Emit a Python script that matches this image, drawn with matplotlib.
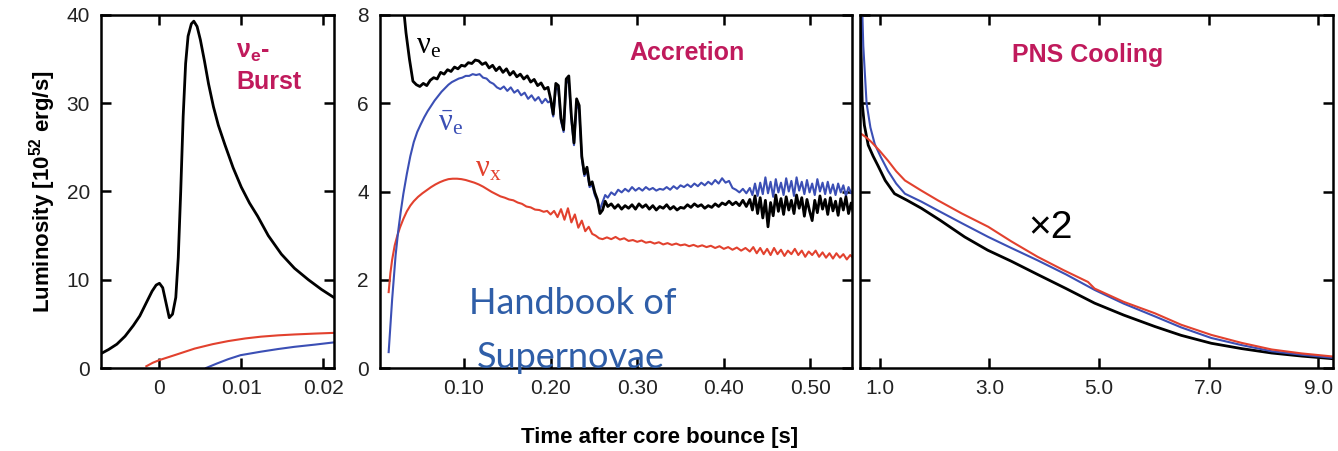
import matplotlib.pyplot as plt

plt.rcParams['font.family'] = ['Liberation Sans Narrow', 'Liberation Sans', 'DejaVu Sans']

# neutrino species colours
C_E = 'black'
C_EBAR = '#3b4fb5'
C_X = '#e2412e'
C_PHASE = '#c01a5c'

# --- nu_e burst phase (time in s) ---
burst_t_e = [-0.0072, -0.0062, -0.0052, -0.0042, -0.0032, -0.0024, -0.0016, -0.0009, -0.0004, 0.0,
             0.0004, 0.0008, 0.0012, 0.0016, 0.0020, 0.0023, 0.0026, 0.0029, 0.0032, 0.0035,
             0.0039, 0.0042, 0.0046, 0.0050, 0.0055, 0.0060, 0.0066, 0.0072, 0.0080, 0.0090,
             0.0100, 0.0110, 0.0120, 0.0133, 0.0149, 0.0165, 0.0182, 0.0198, 0.0213]
burst_L_e = [1.6, 2.1, 2.7, 3.6, 4.8, 5.9, 7.4, 8.7, 9.4, 9.6,
             9.1, 7.4, 5.7, 6.1, 8.0, 12.5, 20.0, 28.5, 34.5, 37.6,
             39.0, 39.3, 38.7, 37.2, 34.8, 32.2, 29.6, 27.5, 25.3, 22.7,
             20.5, 18.7, 17.2, 15.0, 12.9, 11.3, 10.0, 8.9, 8.0]
burst_t_x = [-0.0016, -0.0008, 0.0, 0.002, 0.0043, 0.0065, 0.0084, 0.0105, 0.0124, 0.0145, 0.0165, 0.019, 0.0213]
burst_L_x = [0.2, 0.6, 0.9, 1.5, 2.2, 2.7, 3.05, 3.35, 3.55, 3.7, 3.8, 3.9, 3.98]
burst_t_ebar = [0.0057, 0.0070, 0.0084, 0.0099, 0.0124, 0.0145, 0.0165, 0.019, 0.0213]
burst_L_ebar = [0.0, 0.5, 1.0, 1.45, 1.85, 2.15, 2.4, 2.65, 2.9]

# --- accretion phase ---
acc_t_e = [0.029, 0.033, 0.037, 0.041, 0.045, 0.049, 0.053, 0.057, 0.061, 0.065, 0.069, 0.073, 0.077,
           0.081, 0.085, 0.089, 0.093, 0.097, 0.101, 0.105, 0.109, 0.113, 0.117, 0.121, 0.125, 0.129,
           0.133, 0.137, 0.141, 0.145, 0.149, 0.153, 0.157, 0.161, 0.165, 0.169, 0.173, 0.177, 0.181,
           0.185, 0.189, 0.193, 0.197, 0.200, 0.203, 0.206, 0.209, 0.212, 0.215, 0.218, 0.221, 0.224,
           0.227, 0.230, 0.233, 0.236, 0.239, 0.242, 0.245, 0.248, 0.251, 0.254, 0.257, 0.260, 0.263,
           0.266, 0.270, 0.274, 0.278, 0.282, 0.286, 0.290, 0.294, 0.298, 0.302, 0.306, 0.310, 0.314,
           0.318, 0.322, 0.326, 0.330, 0.334, 0.338, 0.342, 0.346, 0.350, 0.354, 0.358, 0.362, 0.366,
           0.370, 0.374, 0.378, 0.382, 0.386, 0.390, 0.394, 0.398, 0.402, 0.406, 0.410, 0.414, 0.418,
           0.422, 0.426, 0.430, 0.433, 0.436, 0.439, 0.442, 0.445, 0.448, 0.451, 0.454, 0.457, 0.460,
           0.463, 0.466, 0.469, 0.472, 0.475, 0.478, 0.481, 0.484, 0.487, 0.490, 0.493, 0.496, 0.499,
           0.502, 0.505, 0.508, 0.511, 0.514, 0.517, 0.520, 0.523, 0.526, 0.529, 0.532, 0.535, 0.538,
           0.541, 0.544, 0.547, 0.549]
acc_L_e = [8.4, 7.6, 7.0, 6.5, 6.42, 6.38, 6.45, 6.40, 6.52, 6.58, 6.55, 6.70, 6.66,
           6.76, 6.72, 6.82, 6.78, 6.86, 6.84, 6.92, 6.90, 6.98, 6.96, 6.88, 6.92, 6.80,
           6.86, 6.74, 6.82, 6.70, 6.78, 6.64, 6.72, 6.60, 6.66, 6.55, 6.62, 6.48, 6.54,
           6.40, 6.46, 6.32, 6.36, 6.10, 5.75, 6.45, 6.40, 5.65, 5.40, 6.55, 6.62, 5.70,
           5.10, 6.10, 5.95, 4.80, 4.40, 4.55, 4.15, 4.22, 3.98, 3.82, 3.50, 3.58, 3.78,
           3.66, 3.72, 3.62, 3.70, 3.60, 3.68, 3.62, 3.70, 3.60, 3.72, 3.64, 3.70, 3.60,
           3.68, 3.58, 3.66, 3.62, 3.70, 3.60, 3.66, 3.58, 3.64, 3.62, 3.70, 3.64, 3.72,
           3.66, 3.70, 3.62, 3.68, 3.64, 3.72, 3.66, 3.74, 3.70, 3.78, 3.70, 3.76, 3.68,
           3.80, 3.66, 3.82, 3.58, 3.90, 3.50, 3.86, 3.40, 3.80, 3.20, 3.75, 3.45, 3.92,
           3.55, 3.84, 3.48, 3.88, 3.58, 3.80, 3.50, 3.92, 3.62, 3.86, 3.44, 3.82, 3.56,
           3.34, 3.80, 3.52, 3.90, 3.60, 3.82, 3.48, 3.86, 3.56, 3.78, 3.46, 3.84, 3.58,
           3.88, 3.50, 3.74, 3.56]

acc_t_ebar = [0.013, 0.015, 0.017, 0.019, 0.021, 0.024, 0.027, 0.030, 0.034, 0.038, 0.042, 0.046, 0.050,
              0.054, 0.058, 0.062, 0.066, 0.070, 0.074, 0.078, 0.082, 0.086, 0.090, 0.094, 0.098, 0.102,
              0.106, 0.110, 0.114, 0.118, 0.122, 0.126, 0.130, 0.134, 0.138, 0.142, 0.146, 0.150, 0.154,
              0.158, 0.162, 0.166, 0.170, 0.174, 0.178, 0.182, 0.186, 0.190, 0.194, 0.197, 0.200, 0.203,
              0.206, 0.209, 0.212, 0.215, 0.218, 0.221, 0.224, 0.227, 0.230, 0.233, 0.236, 0.239, 0.242,
              0.245, 0.248, 0.251, 0.254, 0.257, 0.260, 0.263, 0.266, 0.270, 0.274, 0.278, 0.282, 0.286,
              0.290, 0.294, 0.298, 0.302, 0.306, 0.310, 0.314, 0.318, 0.322, 0.326, 0.330, 0.334, 0.338,
              0.342, 0.346, 0.350, 0.354, 0.358, 0.362, 0.366, 0.370, 0.374, 0.378, 0.382, 0.386, 0.390,
              0.394, 0.398, 0.402, 0.406, 0.410, 0.414, 0.418, 0.422, 0.426, 0.430, 0.433, 0.436, 0.439,
              0.442, 0.445, 0.448, 0.451, 0.454, 0.457, 0.460, 0.463, 0.466, 0.469, 0.472, 0.475, 0.478,
              0.481, 0.484, 0.487, 0.490, 0.493, 0.496, 0.499, 0.502, 0.505, 0.508, 0.511, 0.514, 0.517,
              0.520, 0.523, 0.526, 0.529, 0.532, 0.535, 0.538, 0.541, 0.544, 0.547, 0.549]
acc_L_ebar = [0.36, 0.95, 1.55, 2.05, 2.55, 3.10, 3.55, 3.95, 4.40, 4.80, 5.12, 5.35, 5.52,
              5.68, 5.82, 5.94, 6.06, 6.16, 6.26, 6.34, 6.42, 6.48, 6.52, 6.56, 6.58, 6.62,
              6.62, 6.66, 6.64, 6.66, 6.58, 6.56, 6.48, 6.44, 6.36, 6.32, 6.38, 6.28, 6.36,
              6.24, 6.30, 6.18, 6.24, 6.10, 6.18, 6.06, 6.14, 6.00, 6.10, 6.02, 6.05, 5.70,
              6.35, 6.30, 5.60, 5.35, 6.45, 6.52, 5.62, 5.05, 6.00, 5.85, 4.75, 4.35, 4.48,
              4.10, 4.15, 3.92, 3.78, 3.60, 3.76, 3.92, 3.86, 3.98, 3.92, 4.04, 3.98, 4.06,
              4.00, 4.10, 4.02, 4.08, 4.02, 4.10, 4.04, 4.08, 4.02, 4.06, 4.04, 4.10, 4.04,
              4.12, 4.06, 4.14, 4.10, 4.16, 4.10, 4.18, 4.12, 4.20, 4.14, 4.22, 4.16, 4.26,
              4.18, 4.30, 4.20, 4.24, 4.08, 4.04, 3.98, 4.06, 3.96, 4.08, 3.92, 4.18, 3.90,
              4.20, 3.94, 4.32, 3.96, 4.22, 3.88, 4.28, 3.98, 4.20, 3.92, 4.30, 4.00, 4.24,
              3.90, 4.32, 4.02, 4.22, 3.94, 4.26, 3.98, 4.18, 3.92, 4.28, 4.00, 4.20, 3.94,
              4.22, 3.96, 4.16, 3.92, 4.18, 3.98, 4.14, 3.90, 4.10, 3.96, 4.02]

acc_t_x = [0.013, 0.015, 0.017, 0.020, 0.023, 0.026, 0.030, 0.034, 0.038, 0.042, 0.047, 0.052, 0.057,
           0.062, 0.067, 0.072, 0.077, 0.082, 0.087, 0.092, 0.097, 0.102, 0.107, 0.112, 0.117, 0.122,
           0.127, 0.132, 0.137, 0.142, 0.147, 0.152, 0.157, 0.162, 0.167, 0.172, 0.177, 0.182, 0.187,
           0.192, 0.196, 0.200, 0.204, 0.208, 0.212, 0.216, 0.220, 0.224, 0.228, 0.232, 0.236, 0.240,
           0.244, 0.248, 0.252, 0.256, 0.260, 0.265, 0.270, 0.275, 0.280, 0.285, 0.290, 0.295, 0.300,
           0.305, 0.310, 0.315, 0.320, 0.325, 0.330, 0.335, 0.340, 0.345, 0.350, 0.355, 0.360, 0.365,
           0.370, 0.375, 0.380, 0.385, 0.390, 0.395, 0.400, 0.405, 0.410, 0.415, 0.420, 0.425, 0.430,
           0.434, 0.438, 0.442, 0.446, 0.450, 0.454, 0.458, 0.462, 0.466, 0.470, 0.474, 0.478, 0.482,
           0.486, 0.490, 0.494, 0.498, 0.502, 0.506, 0.510, 0.514, 0.518, 0.522, 0.526, 0.530, 0.534,
           0.538, 0.542, 0.546, 0.549]
acc_L_x = [1.72, 2.15, 2.45, 2.78, 3.00, 3.18, 3.38, 3.55, 3.68, 3.78, 3.88, 3.96, 4.03,
           4.10, 4.16, 4.21, 4.25, 4.28, 4.29, 4.29, 4.28, 4.26, 4.23, 4.20, 4.16, 4.11,
           4.05, 3.99, 3.94, 3.89, 3.86, 3.82, 3.80, 3.75, 3.72, 3.66, 3.64, 3.59, 3.58,
           3.54, 3.56, 3.48, 3.56, 3.42, 3.60, 3.36, 3.62, 3.30, 3.48, 3.18, 3.34, 3.10,
           3.20, 3.04, 3.00, 2.94, 2.92, 2.96, 2.92, 2.97, 2.91, 2.94, 2.88, 2.90, 2.86,
           2.89, 2.84, 2.86, 2.82, 2.85, 2.80, 2.83, 2.79, 2.82, 2.78, 2.80, 2.76, 2.79,
           2.75, 2.78, 2.74, 2.77, 2.72, 2.76, 2.70, 2.74, 2.68, 2.73, 2.66, 2.72, 2.64,
           2.74, 2.60, 2.72, 2.58, 2.70, 2.56, 2.72, 2.58, 2.68, 2.54, 2.66, 2.58, 2.70,
           2.56, 2.66, 2.52, 2.64, 2.56, 2.66, 2.52, 2.62, 2.50, 2.60, 2.48, 2.60, 2.50,
           2.58, 2.46, 2.56, 2.50]

# --- PNS cooling phase (luminosities scaled x2) ---
cool_t_e = [0.64, 0.66, 0.68, 0.72, 0.79, 0.88, 0.97, 1.10, 1.27, 1.50, 1.76, 2.10, 2.55,
            2.97, 3.40, 3.88, 4.40, 4.92, 5.45, 6.02, 6.50, 7.05, 7.60, 8.15, 8.70, 9.27]
cool_L_e = [9.0, 7.2, 6.0, 5.5, 5.05, 4.8, 4.58, 4.25, 3.95, 3.80, 3.62, 3.35, 2.97,
            2.67, 2.42, 2.12, 1.80, 1.47, 1.20, 0.94, 0.74, 0.56, 0.44, 0.34, 0.27, 0.21]
cool_t_ebar = [0.66, 0.70, 0.76, 0.83, 0.91, 1.02, 1.15, 1.30, 1.46, 1.76, 2.06, 2.50, 2.98,
               3.40, 3.88, 4.40, 4.92, 5.45, 6.02, 6.50, 7.05, 7.60, 8.15, 8.70, 9.27]
cool_L_ebar = [9.0, 7.3, 6.0, 5.45, 5.07, 4.78, 4.47, 4.18, 3.95, 3.77, 3.57, 3.28, 2.97,
               2.72, 2.44, 2.12, 1.77, 1.46, 1.17, 0.92, 0.68, 0.52, 0.38, 0.30, 0.23]
cool_t_x = [0.67, 0.76, 0.85, 1.00, 1.15, 1.30, 1.46, 1.76, 2.06, 2.50, 2.98, 3.40, 3.88,
            4.35, 4.80, 4.92, 5.45, 6.02, 6.50, 7.05, 7.60, 8.15, 8.70, 9.27]
cool_L_x = [5.30, 5.22, 5.12, 4.92, 4.70, 4.46, 4.25, 4.02, 3.80, 3.50, 3.20, 2.87, 2.52,
            2.22, 1.95, 1.80, 1.50, 1.24, 0.98, 0.75, 0.57, 0.42, 0.33, 0.26]

W, H = 1338, 451
fig = plt.figure(figsize=(W / 100, H / 100), dpi=100)
bot, hgt = 83 / H, 353 / H
ax1 = fig.add_axes([101 / W, bot, 233 / W, hgt])
ax2 = fig.add_axes([380 / W, bot, 472 / W, hgt])
ax3 = fig.add_axes([860 / W, bot, 473 / W, hgt])


def style(ax):
    for s in ax.spines.values():
        s.set_linewidth(1.8)
    ax.tick_params(direction='in', top=True, right=True, length=7, width=1.8,
                   labelsize=15, pad=8, colors='black', labelcolor='#222222')


# burst
ax1.plot(burst_t_e, burst_L_e, color=C_E, lw=2.0)
ax1.plot(burst_t_x, burst_L_x, color=C_X, lw=1.5)
ax1.plot(burst_t_ebar, burst_L_ebar, color=C_EBAR, lw=1.5)
ax1.set_xlim(-0.00714, 0.02133)
ax1.set_ylim(0, 40)
ax1.set_xticks([0, 0.01, 0.02], ['0', '0.01', '0.02'])
ax1.set_yticks([0, 10, 20, 30, 40])
style(ax1)
ax1.text(0.58, 0.896, r'$\mathregular{ν_e}$-', transform=ax1.transAxes, color=C_PHASE,
         fontsize=18, fontweight='bold', family='Liberation Sans', va='center', ha='left')
ax1.text(0.58, 0.811, 'Burst', transform=ax1.transAxes, color=C_PHASE,
         fontsize=18, fontweight='bold', family='Liberation Sans', va='center', ha='left')
ax1.set_ylabel(r'Luminosity [10$^{\mathregular{52}}$ erg/s]', fontsize=16,
               fontweight='bold', labelpad=6)

# accretion
ax2.plot(acc_t_x, acc_L_x, color=C_X, lw=1.5)
ax2.plot(acc_t_ebar, acc_L_ebar, color=C_EBAR, lw=1.5)
ax2.plot(acc_t_e, acc_L_e, color=C_E, lw=2.0)
ax2.set_xlim(0.003, 0.548)
ax2.set_ylim(0, 8)
ax2.set_xticks([0.1, 0.2, 0.3, 0.4, 0.5], ['0.10', '0.20', '0.30', '0.40', '0.50'])
ax2.set_yticks([0, 2, 4, 6, 8])
style(ax2)
ax2.text(0.65, 0.892, 'Accretion', transform=ax2.transAxes, color=C_PHASE,
         fontsize=18, fontweight='bold', family='Liberation Sans', va='center', ha='center')
ax2.text(0.045, 7.3, r'$\mathregular{ν_e}$', color=C_E, fontsize=22,
         family='Liberation Serif', va='center')
ax2.text(0.070, 5.55, r'$\mathregular{\bar{ν}_e}$', color=C_EBAR, fontsize=22,
         family='Liberation Serif', va='center')
ax2.text(0.113, 4.5, r'$\mathregular{ν_x}$', color=C_X, fontsize=22,
         family='Liberation Serif', va='center')

# PNS cooling
ax3.plot(cool_t_e, cool_L_e, color=C_E, lw=2.0)
ax3.plot(cool_t_ebar, cool_L_ebar, color=C_EBAR, lw=1.5)
ax3.plot(cool_t_x, cool_L_x, color=C_X, lw=1.5)
ax3.set_xlim(0.64, 9.27)
ax3.set_ylim(0, 8)
ax3.set_xticks([1, 3, 5, 7, 9], ['1.0', '3.0', '5.0', '7.0', '9.0'])
ax3.set_yticks([0, 2, 4, 6, 8])
style(ax3)
ax3.tick_params(labelleft=False)
ax3.text(0.482, 0.887, 'PNS Cooling', transform=ax3.transAxes, color=C_PHASE,
         fontsize=18, fontweight='bold', family='Liberation Sans', va='center', ha='center')
ax3.text(0.402, 0.397, '×2', transform=ax3.transAxes, color='black',
         fontsize=28, family='Liberation Sans', va='center', ha='center')

fig.text(0.493, 0.031, 'Time after core bounce [s]', fontsize=16, fontweight='bold',
         ha='center', va='center')

# publisher credit over the middle panel
fig.text(0.428, 0.328, 'Handbook of', color='#2f5ea8', fontsize=26, family='Lato',
         ha='center', va='center')
fig.text(0.427, 0.208, 'Supernovae', color='#2f5ea8', fontsize=26, family='Lato',
         ha='center', va='center')

fig.savefig('out.png', dpi=100)
